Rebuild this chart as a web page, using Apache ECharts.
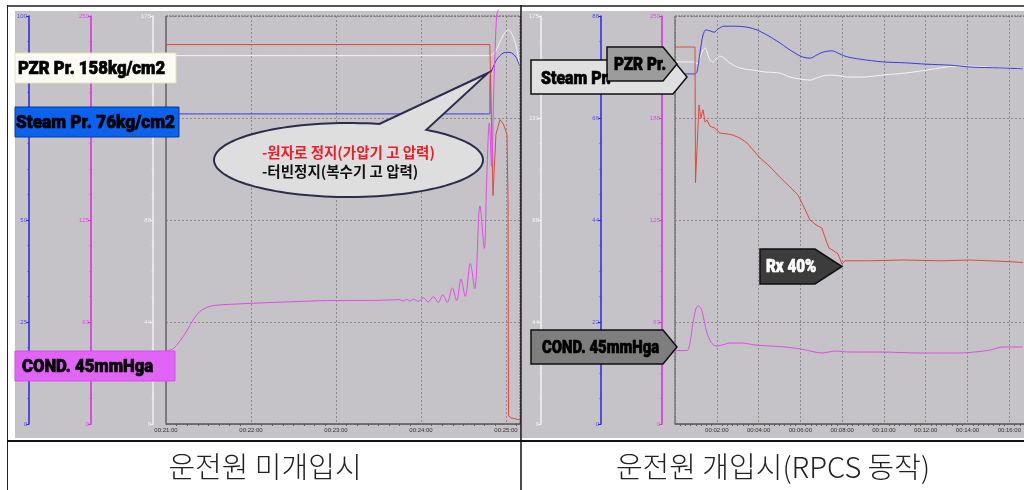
<!DOCTYPE html>
<html>
<head>
<meta charset="utf-8">
<script src="https://cdn.jsdelivr.net/npm/echarts@6/dist/echarts.min.js"></script>
<style>
  html, body { margin: 0; padding: 0; background: #ffffff; }
  #chart { width: 1024px; height: 490px; }
</style>
</head>
<body>
<div id="chart"></div>
<script>
// ---- Trend data: [time in minutes from start of window, value] ----
// Left window starts at 00:21:00 (no operator action)
const leftStartMinute = 21;
const leftPower = [[0,93],[3.81,93],[3.824,80],[3.847,56],[3.882,71],[3.929,74.6],[3.97,73.5],[4.012,71],[4.024,55],[4.03,2],[4.06,1.5],[4.165,1]];
const leftSteam = [[0,76],[3.81,76],[3.815,85.5],[3.847,87.4],[3.894,89.4],[3.965,90.9],[4.024,91.1],[4.07,90.9],[4.118,89.9],[4.165,87.6]];
const leftPzr   = [[0,158],[3.81,158],[3.84,158.5],[3.88,160],[3.93,164],[3.99,168],[4.03,169],[4.08,166.5],[4.12,162],[4.165,153]];
const leftCond  = [[0,45],[0.08,46],[0.165,51],[0.247,57.3],[0.33,64.7],[0.4,69],[0.48,71.4],[0.576,72.7],[0.75,73.3],[0.99,73.9],[1.58,75.1],[2.01,75.7],[2.44,75.7],[2.75,76.2],
  [2.79,75.3],[2.83,76.4],[2.871,75.3],[2.91,76.5],[2.969,75.1],[3.027,77.4],[3.086,74.7],[3.145,78],[3.204,74.5],[3.255,79.2],[3.31,74.5],[3.368,83.3],[3.42,75.7],[3.471,88.7],[3.521,78.2],[3.58,98.3],[3.632,82.9],[3.694,133.6],[3.745,107.6],[3.772,147.6],[3.804,184.5],[3.831,157.8],[3.859,209.2],[3.89,250.2],[3.91,254]];

// Right window starts at 00:00:00 (operator action, RPCS)
const rightPower = [[0,92.4],[0.957,92.4],[0.98,59.1],[1.05,67.2],[1.15,78.2],[1.24,75],[1.34,77],[1.44,74],[1.53,74.5],[1.67,73],[1.91,72.5],[2.15,71.3],[2.49,71.1],[2.78,70.8],[3.11,70.1],[3.44,68.9],[3.73,67.2],[4.07,65.2],[4.45,63.5],[4.78,61.8],[5.02,60.5],[5.5,58.1],[5.89,56.1],[6.12,53.7],[6.46,50],[6.75,48.8],[7.03,48],[7.22,45.1],[7.37,43.1],[7.61,42.4],[7.8,41.7],[7.99,39.2],
  [8.13,40],[9.33,40],[10.9,40.2],[12.68,40],[14.1,40.2],[15.55,39.9],[16.65,39.6]];
const rightSteam = [[0,75.5],[0.957,75.5],[1.05,75.9],[1.2,80.2],[1.34,83.9],[1.48,85],[1.67,84.8],[1.87,84.5],[2.06,85.2],[2.34,85.8],[2.87,85.8],[3.44,85.6],[3.92,85],[4.4,83.9],[5.02,82.2],[5.36,81.1],[5.74,80],[6.08,79.2],[6.46,78.9],[6.79,79.6],[7.08,80.2],[7.51,80.5],[7.89,79.8],[8.23,79.2],[8.85,78.7],[9.95,78.1],[11,77.9],[12.06,77.6],[13.16,77.4],[14.11,77],[15.55,76.8],[16.65,76.6]];
const rightPzr   = [[0,155.3],[0.957,155.3],[1.05,154.4],[1.2,157.4],[1.34,160.4],[1.44,161.3],[1.53,159.6],[1.67,156.1],[1.82,155.3],[2.01,157],[2.15,157.8],[2.34,157],[2.63,154.8],[3.11,152.7],[3.73,151.8],[4.31,151],[5.02,150.5],[5.5,148.8],[5.98,148],[6.46,147.5],[6.79,148.4],[7.08,149.3],[7.42,149.7],[7.89,149.3],[8.23,148.8],[9,148.8],[9.95,149.7],[11,150.5],[12.06,151.8],[13.49,153.5],[14.11,153.5],[15.55,152.7],[16.65,152.3]];
const rightCond  = [[0,45],[0.57,45],[0.72,50],[0.86,62],[1.0,70.5],[1.1,72.3],[1.24,71.1],[1.39,63.7],[1.53,55.8],[1.72,50.2],[1.96,47.8],[2.25,48.4],[2.63,49.6],[3.21,49.6],[3.83,48.4],[4.55,47.8],[5.26,47.2],[5.98,46],[6.7,44.1],[7.03,43.5],[7.66,44.7],[8.37,44.1],[9.81,44.1],[11.72,43.5],[13.64,43.5],[14.35,44.1],[15.07,45.3],[15.69,47.2],[16.65,47.2]];

// Annotation and caption texts
const leftTags  = ['PZR Pr. 158kg/cm2', 'Steam Pr. 76kg/cm2', 'COND. 45mmHga'];
const bubbleLines = ['-원자로 정지(가압기 고 압력)', '-터빈정지(복수기 고 압력)'];
const rightTags = ['Steam Pr.', 'PZR Pr.', 'COND. 45mmHga', 'Rx 40%'];
const captions  = ['운전원 미개입시', '운전원 개입시(RPCS 동작)'];

// ---- Styling ----
const RED = '#e4483e', BLUE = '#3a3ae6', WHITE = '#f4f4f4', MAG = '#e44ae8';
const PANEL = '#c5c3c7';
const GRIDLINE = '#8c8c8c';
const TAG_FONT = 'Roboto';
const KR_FONT = '"Noto Sans CJK KR", sans-serif';

const pad2 = n => (n < 10 ? '0' : '') + n;
const round = v => String(Math.round(v));

function timeAxis(grid, max, step, startMinute, showMin) {
  return {
    type: 'value', gridIndex: grid, min: 0, max: max, interval: step,
    axisLine: { show: true, onZero: false, lineStyle: { color: '#5a5a5a', width: 1.5, type: [3, 1] } },
    axisTick: { show: false },
    minorTick: { show: true, splitNumber: 8, length: 2, lineStyle: { color: '#5a5a5a' } },
    axisLabel: {
      fontSize: 6, color: '#333', margin: 3, showMaxLabel: false, showMinLabel: showMin,
      formatter: v => Math.abs(v - Math.round(v)) > 1e-6 ? '' : '00:' + pad2(startMinute + Math.round(v)) + ':00'
    },
    splitLine: { show: true, lineStyle: { color: GRIDLINE, type: [2, 2], width: 1 } }
  };
}

function valueAxis(grid, max, step, color, labelColor, offset, split) {
  return {
    type: 'value', gridIndex: grid, position: 'left', offset: offset,
    min: 0, max: max, interval: step,
    axisLine: { show: true, onZero: false, lineStyle: { color: color, width: 1.5 } },
    axisTick: { show: true, length: 3, lineStyle: { color: color } },
    minorTick: { show: true, splitNumber: 4, length: 2, lineStyle: { color: color, opacity: 0.35 } },
    axisLabel: { fontSize: 6, color: labelColor, margin: 2, formatter: round },
    splitLine: { show: split, lineStyle: { color: GRIDLINE, type: [2, 2], width: 1 } }
  };
}

const line = (x, y, data, color, extra) => Object.assign({
  type: 'line', xAxisIndex: x, yAxisIndex: y, data: data, showSymbol: false, symbol: 'none',
  lineStyle: { color: color, width: 1 }, animation: false, z: 3
}, extra || {});

// ---- Decorations ----
const measureCtx = document.createElement('canvas').getContext('2d');
function textWidth(str, size, family, weight) {
  measureCtx.font = (weight || 'bold') + ' ' + size + 'px ' + family;
  return measureCtx.measureText(str).width;
}
function pentagon(x0, y0, x1, tipX, y1, fill) {
  const ym = (y0 + y1) / 2;
  return { type: 'polygon', z: 50, shape: { points: [[x0, y0], [x1, y0], [tipX, ym], [x1, y1], [x0, y1]] },
           style: { fill: fill, stroke: '#111', lineWidth: 1.5 } };
}
// heavy condensed tag text: squeezed horizontally to the given width
function tagText(str, x, y, color, size, width) {
  const sx = width / (textWidth(str, size, TAG_FONT, '900') + 1);
  return { type: 'text', z: 60, x: x, y: y, scaleX: sx, scaleY: 1,
           style: { text: str, x: 0, y: 0, fill: color, stroke: color, lineWidth: 0.7, fontSize: size, fontWeight: 900,
                    fontFamily: TAG_FONT, textAlign: 'left', textVerticalAlign: 'middle' } };
}
function bubblePoints(cx, cy, rx, ry, a0, a1, tip) {
  const pts = [];
  const n = 120;
  for (let i = 0; i <= n; i++) {
    const a = a0 + (a1 - a0) * i / n;
    pts.push([cx + rx * Math.cos(a), cy + ry * Math.sin(a)]);
  }
  pts.push(tip);
  return pts;
}
const seg = (x1, y1, x2, y2, color, w, dash, z) => ({
  type: 'line', z: z == null ? 40 : z, shape: { x1: x1, y1: y1, x2: x2, y2: y2 },
  style: { stroke: color, lineWidth: w, lineDash: dash || null }
});

const L = { left: 166, top: 16, width: 354, height: 408 };
const R = { left: 675, top: 16, width: 349, height: 408 };

const graphics = [
  // panel backgrounds
  { type: 'rect', z: -100, shape: { x: 15, y: 11, width: 506, height: 427 }, style: { fill: PANEL } },
  { type: 'rect', z: -100, shape: { x: 522, y: 11, width: 502, height: 427 }, style: { fill: PANEL } },
  // plot frames
  { type: 'rect', z: 1, shape: { x: L.left, y: L.top, width: L.width, height: L.height }, style: { fill: null, stroke: '#666', lineWidth: 1, lineDash: [2, 1] } },
  { type: 'rect', z: 1, shape: { x: R.left, y: R.top, width: R.width + 2, height: R.height }, style: { fill: null, stroke: '#666', lineWidth: 1, lineDash: [2, 1] } },
  seg(L.left, L.top, L.left, L.top + L.height, '#7a7a7a', 2, null, 1),
  seg(R.left, R.top, R.left, R.top + R.height, '#7a7a7a', 1.5, [2, 1], 1),
  // table frame
  seg(7, 6, 1024, 6, '#555', 2),
  seg(7.5, 5, 7.5, 490, '#222', 1),
  seg(521, 5, 521, 490, '#111', 1.5),
  seg(7, 441, 1024, 441, '#111', 2),

  // left tags
  { type: 'rect', z: 50, shape: { x: 15, y: 53, width: 161, height: 30 }, style: { fill: '#fbfbf4', stroke: '#e6e2b4', lineWidth: 1 } },
  tagText(leftTags[0], 18, 69, '#000', 19, 148),
  { type: 'rect', z: 50, shape: { x: 15, y: 107, width: 164, height: 30 }, style: { fill: '#0a62ee', stroke: '#0a3a9a', lineWidth: 1 } },
  tagText(leftTags[1], 16, 123, '#000', 19, 160),
  { type: 'rect', z: 50, shape: { x: 15, y: 351, width: 160, height: 30 }, style: { fill: '#e264f6', stroke: '#d050e0', lineWidth: 1 } },
  tagText(leftTags[2], 22, 367, '#000', 19, 132),

  // callout bubble
  { type: 'polygon', z: 50, shape: { points: bubblePoints(348.5, 160, 134.5, 37, -0.954, 2 * Math.PI - 1.339, [488, 73]) },
    style: { fill: '#dedede', stroke: '#2c2c4c', lineWidth: 2 } },
  { type: 'text', z: 60, style: { text: bubbleLines[0], x: 262, y: 152, fill: '#e8202a', fontSize: 14.5, fontWeight: 'bold', fontFamily: KR_FONT, textAlign: 'left', textVerticalAlign: 'middle' } },
  { type: 'text', z: 60, style: { text: bubbleLines[1], x: 262, y: 171, fill: '#111', fontSize: 14.5, fontWeight: 'bold', fontFamily: KR_FONT, textAlign: 'left', textVerticalAlign: 'middle' } },

  // right tags
  pentagon(531, 60, 673, 687, 94, '#e0e0e0'),
  tagText(rightTags[0], 541, 79, '#000', 18, 71),
  pentagon(607, 47, 663, 677, 81, '#9c9c9c'),
  tagText(rightTags[1], 614, 65, '#000', 18, 53),
  pentagon(531, 330, 663, 677, 364, '#7e7e7e'),
  tagText(rightTags[2], 542, 348, '#000', 18, 118),
  pentagon(760, 249, 815, 842, 284, '#3c3c3c'),
  tagText(rightTags[3], 766, 267, '#fff', 19, 51),

  // captions
  { type: 'text', z: 60, style: { text: captions[0], x: 265, y: 467, fill: '#222', fontSize: 29, fontWeight: 300, fontFamily: KR_FONT, textAlign: 'center', textVerticalAlign: 'middle' } },
  { type: 'text', z: 60, style: { text: captions[1], x: 773, y: 467, fill: '#222', fontSize: 29, fontWeight: 300, fontFamily: KR_FONT, textAlign: 'center', textVerticalAlign: 'middle' } }
];

const option = {
  animation: false,
  backgroundColor: '#ffffff',
  grid: [
    Object.assign({ containLabel: false }, L),
    Object.assign({ containLabel: false }, R)
  ],
  xAxis: [
    timeAxis(0, 4.165, 1, leftStartMinute, true),
    timeAxis(1, 16.7, 2, 0, false)
  ],
  yAxis: [
    valueAxis(0, 100, 25, '#2626e8', '#5252e6', 137, true),   // 0: left blue (steam / power %)
    valueAxis(0, 250, 62.5, '#e026e6', '#e050e6', 75, false), // 1: left magenta (condenser)
    valueAxis(0, 175, 43.75, '#f2f2f2', '#f2f2f2', 13, false),// 2: left white (PZR)
    valueAxis(1, 175, 43.75, '#f2f2f2', '#f2f2f2', 134, true),// 3: right white (PZR)
    valueAxis(1, 88, 22, '#2626e8', '#5252e6', 74, false),    // 4: right blue (steam)
    valueAxis(1, 250, 62.5, '#e026e6', '#e050e6', 13, false), // 5: right magenta (condenser)
    { type: 'value', gridIndex: 1, min: 0, max: 100, show: false } // 6: right reactor power %
  ],
  series: [
    line(0, 2, leftPzr, WHITE, { smooth: 0.3 }),
    line(0, 0, leftSteam, BLUE, { smooth: 0.3 }),
    line(0, 0, leftPower, RED),
    line(0, 1, leftCond, MAG, { clip: false, smooth: 0.35 }),
    line(1, 3, rightPzr, WHITE, { smooth: 0.3 }),
    line(1, 4, rightSteam, BLUE, { smooth: 0.3 }),
    line(1, 6, rightPower, RED),
    line(1, 5, rightCond, MAG, { smooth: 0.3 })
  ],
  graphic: graphics
};

const chart = echarts.init(document.getElementById('chart'), null, { renderer: 'canvas' });
chart.setOption(option);
</script>
</body>
</html>
